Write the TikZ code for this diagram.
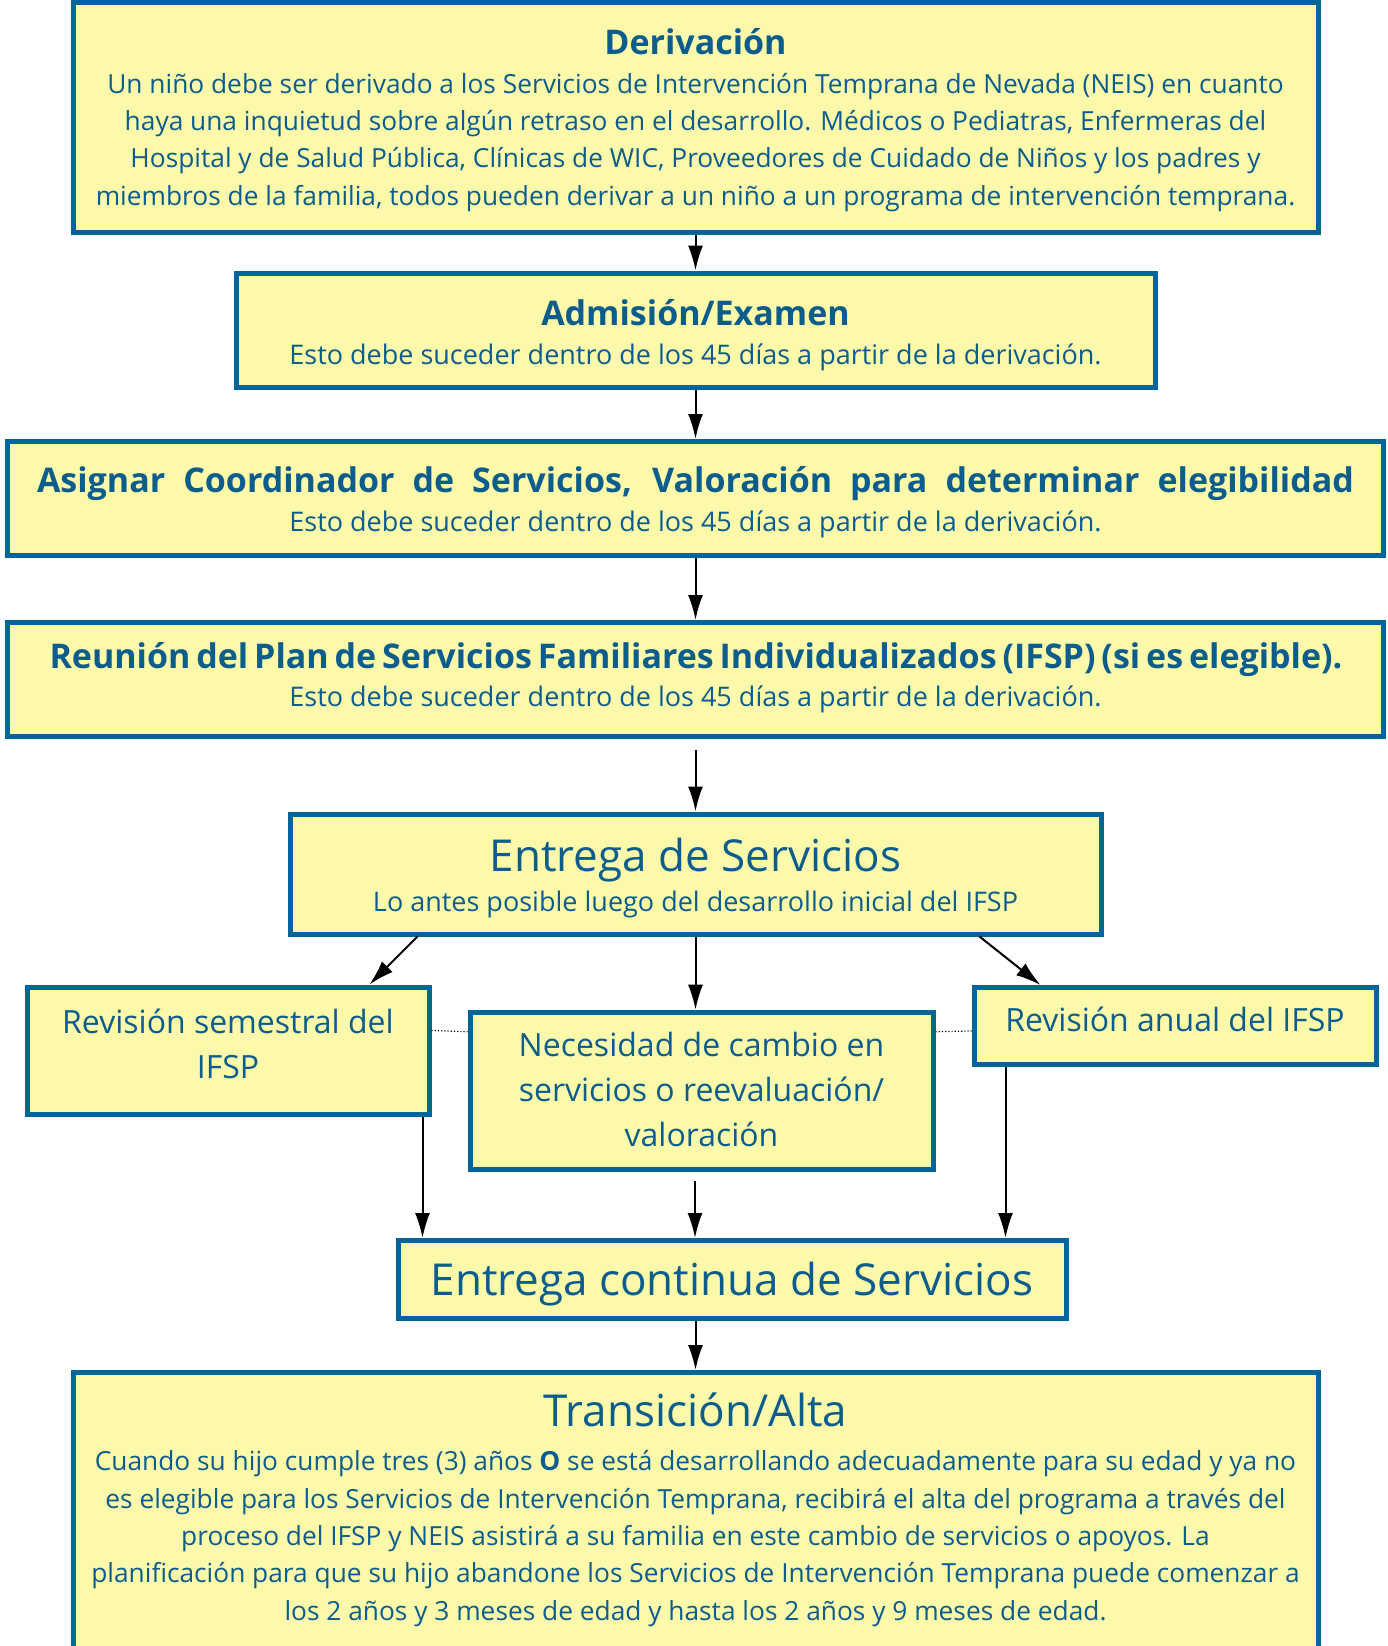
\documentclass[tikz,border=0pt]{standalone}
\usepackage{fontspec}
\setmainfont{Open Sans}
\usepackage{xcolor}
\usepackage{tikz}
\usetikzlibrary{shapes,arrows.meta,positioning,calc}

\definecolor{boxblue}{RGB}{0,102,153}
\definecolor{boxfill}{RGB}{252,250,170}
\definecolor{textblue}{RGB}{12,92,140}

\newcommand\bodyfnt{\fontsize{27}{37.3}\selectfont}
\newcommand\parafnt{\fontsize{26.3}{37.3}\selectfont}
\newcommand\ttlfnt{\fontsize{34}{37.3}\selectfont\bfseries}
\newcommand\bigfnt{\fontsize{44}{37.3}\selectfont}
\newcommand\midfnt{\fontsize{32}{45}\selectfont}
% invisible struts that fix where the lines sit in a box
\newcommand\tallrule[1]{\rule{0pt}{#1pt}}
\newcommand\deeprule[1]{\rule[-#1pt]{0pt}{#1pt}}

\tikzset{
  box/.style={draw=boxblue, line width=5pt, fill=boxfill, text=textblue,
    align=center, inner sep=0pt, font=\bodyfnt},
  midbox/.style={box, font=\midfnt},
  parabox/.style={box, font=\parafnt},
  arr/.style={-{Latex[length=25pt,width=15pt]}, line width=2pt},
  dots/.style={dotted, line width=1.2pt},
}

\begin{document}
\begin{tikzpicture}[x=1pt,y=-1pt]
\fill[white] (0,0) rectangle (1388,1646);
\useasboundingbox (0,0) rectangle (1388,1646);
% Main column
\node[parabox, minimum width=1245pt, minimum height=229pt] (deriv) at (695.5,117.5)
  {\tallrule{37}{\ttlfnt Derivación}\\[1pt]
   Un niño debe ser derivado a los Servicios de Intervención Temprana de Nevada (NEIS) en cuanto\\
   haya una inquietud sobre algún retraso en el desarrollo. Médicos o Pediatras, Enfermeras del\\
   Hospital y de Salud Pública, Clínicas de WIC, Proveedores de Cuidado de Niños y los padres y\\
   miembros de la familia, todos pueden derivar a un niño a un programa de intervención temprana.\deeprule{12}};
\node[box, minimum width=919pt, minimum height=114pt] (admis) at (695.5,330)
  {\tallrule{41.3}{\ttlfnt Admisión/Examen}\\[2pt]
   Esto debe suceder dentro de los 45 días a partir de la derivación.\deeprule{12}};
\node[box, minimum width=1376pt, minimum height=114pt] (asign) at (695.5,498.5)
  {\tallrule{39.4}\makebox[1317pt][s]{\ttlfnt Asignar Coordinador de Servicios, Valoración para determinar elegibilidad}\\[1.7pt]
   Esto debe suceder dentro de los 45 días a partir de la derivación.\deeprule{12}};
\node[box, minimum width=1376pt, minimum height=114pt] (reun) at (695.5,679.5)
  {\tallrule{32}\makebox[1292pt][s]{\ttlfnt Reunión del Plan de Servicios Familiares Individualizados (IFSP) (si es elegible).}\\[1.1pt]
   Esto debe suceder dentro de los 45 días a partir de la derivación.\deeprule{16}};
\node[box, minimum width=811pt, minimum height=120pt] (entrega) at (695.5,874)
  {\tallrule{46.7}{\bigfnt Entrega de Servicios}\\[3.4pt]
   Lo antes posible luego del desarrollo inicial del IFSP\deeprule{12}};
% Review boxes
\node[midbox, minimum width=402pt, minimum height=127pt] (semes) at (228,1050.5)
  {\tallrule{30}Revisión semestral del\\ IFSP\deeprule{20}};
\node[midbox, minimum width=463pt, minimum height=157pt] (neces) at (701.5,1090.7)
  {\tallrule{32.8}Necesidad de cambio en\\ servicios o reevaluación/\\ valoración\deeprule{12}};
\node[midbox, minimum width=402pt, minimum height=77pt] (anual) at (1175,1026)
  {\tallrule{30}Revisión anual del IFSP\deeprule{20}};
% Bottom boxes
\node[box, minimum width=668pt, minimum height=78pt] (contin) at (732,1279.5)
  {\tallrule{43}{\bigfnt Entrega continua de Servicios}\deeprule{12}};
\node[parabox, minimum width=1245pt, minimum height=279pt] (trans) at (695.5,1512)
  {\tallrule{38.7}{\bigfnt Transición/Alta}\\[7pt]
   Cuando su hijo cumple tres (3) años {\bfseries O} se está desarrollando adecuadamente para su edad y ya no\\
   es elegible para los Servicios de Intervención Temprana, recibirá el alta del programa a través del\\
   proceso del IFSP y NEIS asistirá a su familia en este cambio de servicios o apoyos. La\\
   planificación para que su hijo abandone los Servicios de Intervención Temprana puede comenzar a\\
   los 2 años y 3 meses de edad y hasta los 2 años y 9 meses de edad.\deeprule{16}};
% Arrows
\draw[arr] (deriv) -- (admis);
\draw[arr] (admis) -- (asign);
\draw[arr] (asign) -- (reun);
\draw[arr] ($(reun.south)+(0,11)$) -- (entrega.north);
\draw[arr] ($(entrega.south west)+(130,0)$) -- ($(semes.north east)+(-62,0)$);
\draw[arr] (entrega.south) -- (entrega.south |- neces.north);
\draw[arr] ($(entrega.south west)+(692,0)$) -- ($(anual.north west)+(69,0)$);
% Dotted links
\draw[dots] ($(semes.north east)+(0,46)$) -- ($(neces.north west)+(0,22)$);
\draw[dots] ($(neces.north east)+(0,22)$) -- ($(anual.north west)+(0,46)$);
% Into continued delivery
\coordinate (s1) at ($(semes.south east)+(-9,0)$);
\coordinate (n1) at ($(neces.south)+(-6.5,9)$);
\coordinate (y1) at ($(anual.south west)+(34,0)$);
\draw[arr] (s1) -- (s1 |- contin.north);
\draw[arr] (n1) -- (n1 |- contin.north);
\draw[arr] (y1) -- (y1 |- contin.north);
\draw[arr] (contin.south -| trans.north) -- (trans.north);
\end{tikzpicture}
\end{document}
